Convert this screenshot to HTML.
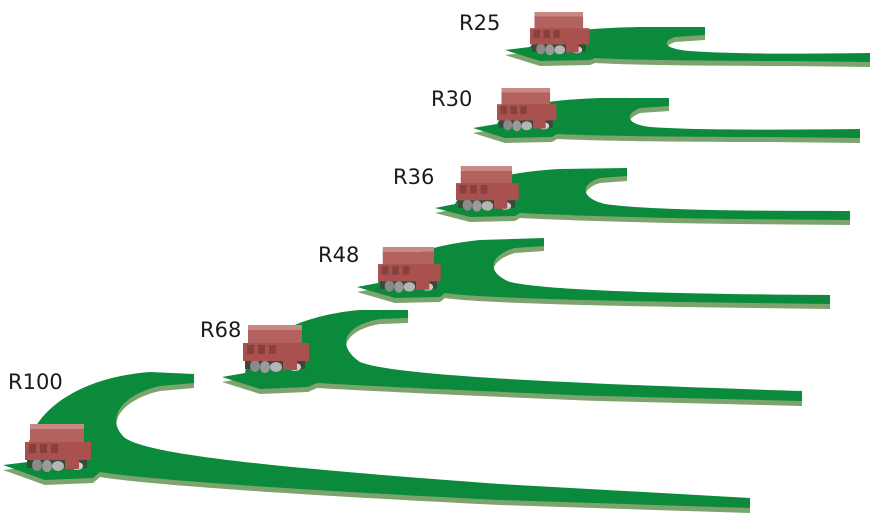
<!DOCTYPE html>
<html><head><style>
body{margin:0;background:#fff;width:884px;height:531px;overflow:hidden}
svg{display:block}
text{font-family:"DejaVu Sans","Liberation Sans",sans-serif;font-size:21px;fill:#1a1a1a}
</style></head><body>
<svg width="884" height="531" viewBox="0 0 884 531" xmlns="http://www.w3.org/2000/svg">
<defs>
<g id="con">
  <rect x="2" y="36" width="60" height="8" fill="#3a4a3a"/>
  <ellipse cx="12" cy="41" rx="5" ry="6" fill="#8a8a8a"/>
  <ellipse cx="22" cy="42" rx="5" ry="6" fill="#9a9a9a"/>
  <ellipse cx="33" cy="42" rx="6" ry="5" fill="#b5b5b5"/>
  <ellipse cx="52" cy="42" rx="6" ry="4" fill="#d0d0d0"/>
  <rect x="5" y="0" width="54" height="5" fill="#c98884"/>
  <rect x="5" y="5" width="54" height="15" fill="#b4625e"/>
  <rect x="0" y="18" width="66" height="18" fill="#a9514e"/>
  <rect x="4" y="20" width="7" height="9" fill="#86403d"/>
  <rect x="15" y="20" width="7" height="9" fill="#86403d"/>
  <rect x="26" y="20" width="7" height="9" fill="#86403d"/>
  <rect x="40" y="34" width="14" height="11" fill="#a9514e"/>
</g>
</defs>
<g fill="#7da46d">
<path transform="translate(0,5)" d="M3,465 L28,462 C22,420 70,378 150,372 L194,374 L194,383 L160,386 C120,395 105,420 125,438 C150,455 280,468 500,484 L750,498 L750,508 L500,500 C300,490 150,480 100,472 L93,478 L45,480 Z"/>
<path transform="translate(0,5)" d="M222,377 L245,373 C250,340 300,315 360,310 L408,310 L408,318 L380,319 C345,325 335,345 360,362 C390,374 520,382 802,391 L802,401 L600,396 C450,390 350,385 317,383 L308,387 L260,389 Z"/>
<path transform="translate(0,5)" d="M357,287 L378,283 C385,260 430,245 480,240 L544,238 L544,246 L515,248 C490,255 485,272 510,282 C550,291 680,294 830,295 L830,304 L680,302 C560,300 470,297 445,293 L440,297 L395,298 Z"/>
<path transform="translate(0,5)" d="M435,208 L455,204 C465,185 500,172 560,169 L627,168 L627,176 L600,178 C580,184 580,198 605,204 C645,210 740,211 850,211 L850,220 L740,219 C640,218 560,215 520,213 L515,216 L470,217 Z"/>
<path transform="translate(0,5)" d="M473,128 L497,124 C505,108 540,100 600,98 L669,98 L669,106 L640,108 C625,114 625,124 650,127 C690,130 770,130 860,129 L860,138 L770,137 C680,137 600,136 557,134 L552,137 L505,138 Z"/>
<path transform="translate(0,5)" d="M505,50 L530,47 C540,33 580,28 640,27 L705,27 L705,35 L675,37 C660,42 665,49 690,51 C730,54 800,54 870,53 L870,62 L790,61 C700,61 630,60 595,58 L590,60 L540,61 Z"/>
</g>
<g fill="#0b8a3c">
<path d="M3,465 L28,462 C22,420 70,378 150,372 L194,374 L194,383 L160,386 C120,395 105,420 125,438 C150,455 280,468 500,484 L750,498 L750,508 L500,500 C300,490 150,480 100,472 L93,478 L45,480 Z"/>
<path d="M222,377 L245,373 C250,340 300,315 360,310 L408,310 L408,318 L380,319 C345,325 335,345 360,362 C390,374 520,382 802,391 L802,401 L600,396 C450,390 350,385 317,383 L308,387 L260,389 Z"/>
<path d="M357,287 L378,283 C385,260 430,245 480,240 L544,238 L544,246 L515,248 C490,255 485,272 510,282 C550,291 680,294 830,295 L830,304 L680,302 C560,300 470,297 445,293 L440,297 L395,298 Z"/>
<path d="M435,208 L455,204 C465,185 500,172 560,169 L627,168 L627,176 L600,178 C580,184 580,198 605,204 C645,210 740,211 850,211 L850,220 L740,219 C640,218 560,215 520,213 L515,216 L470,217 Z"/>
<path d="M473,128 L497,124 C505,108 540,100 600,98 L669,98 L669,106 L640,108 C625,114 625,124 650,127 C690,130 770,130 860,129 L860,138 L770,137 C680,137 600,136 557,134 L552,137 L505,138 Z"/>
<path d="M505,50 L530,47 C540,33 580,28 640,27 L705,27 L705,35 L675,37 C660,42 665,49 690,51 C730,54 800,54 870,53 L870,62 L790,61 C700,61 630,60 595,58 L590,60 L540,61 Z"/>
</g>
<use href="#con" transform="translate(25,424)"/>
<use href="#con" transform="translate(243,325)"/>
<use href="#con" transform="translate(378,247) scale(0.95)"/>
<use href="#con" transform="translate(456,166) scale(0.95)"/>
<use href="#con" transform="translate(497,88) scale(0.9)"/>
<use href="#con" transform="translate(530,12) scale(0.9)"/>
<text x="459" y="30">R25</text>
<text x="431" y="106">R30</text>
<text x="393" y="184">R36</text>
<text x="318" y="262">R48</text>
<text x="200" y="337">R68</text>
<text x="8" y="389">R100</text>
</svg>
</body></html>
